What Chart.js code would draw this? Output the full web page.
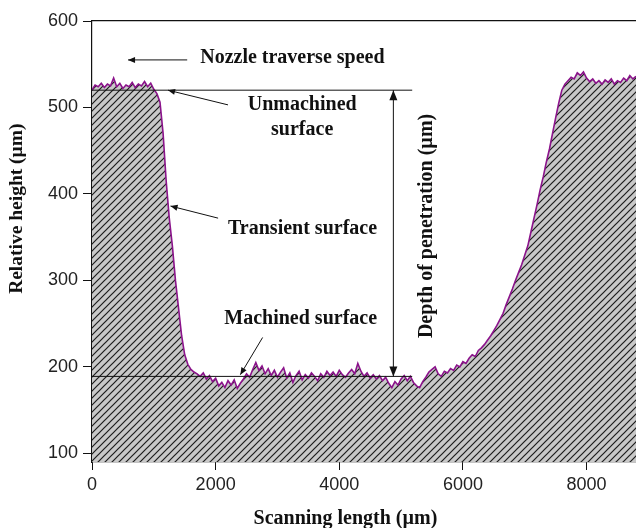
<!DOCTYPE html>
<html>
<head>
<meta charset="utf-8">
<script src="https://cdn.jsdelivr.net/npm/chart.js@4.4.1/dist/chart.umd.min.js"></script>
<style>
  html, body { margin: 0; padding: 0; background: #fff; }
  #wrap { width: 636px; height: 528px; }
</style>
</head>
<body>
<div id="wrap"><canvas id="profile"></canvas></div>
<script>
// scanning positions (µm)
const positions = [
    0, 50, 100, 150, 200, 250, 300, 350, 400, 450, 500, 550, 600, 650, 700, 750, 800, 850, 900, 950,
    1000, 1050, 1100, 1150, 1200, 1250, 1300, 1350, 1400, 1450, 1500, 1550, 1600, 1650, 1700, 1750, 1800, 1850, 1900, 1950,
    2000, 2050, 2100, 2150, 2200, 2250, 2300, 2350, 2400, 2450, 2500, 2550, 2600, 2650, 2700, 2750, 2800, 2850, 2900, 2950,
    3000, 3050, 3100, 3150, 3200, 3250, 3300, 3350, 3400, 3450, 3500, 3550, 3600, 3650, 3700, 3750, 3800, 3850, 3900, 3950,
    4000, 4050, 4100, 4150, 4200, 4250, 4300, 4350, 4400, 4450, 4500, 4550, 4600, 4650, 4700, 4750, 4800, 4850, 4900, 4950,
    5000, 5050, 5100, 5150, 5200, 5250, 5300, 5350, 5400, 5450, 5500, 5550, 5600, 5650, 5700, 5750, 5800, 5850, 5900, 5950,
    6000, 6050, 6100, 6150, 6200, 6250, 6300, 6350, 6400, 6450, 6500, 6550, 6600, 6650, 6700, 6750, 6800, 6850, 6900, 6950,
    7000, 7050, 7100, 7150, 7200, 7250, 7300, 7350, 7400, 7450, 7500, 7550, 7600, 7650, 7700, 7750, 7800, 7850, 7900, 7950,
    8000, 8050, 8100, 8150, 8200, 8250, 8300, 8350, 8400, 8450, 8500, 8550, 8600, 8650, 8700, 8750, 8800
];
// relative height (µm)
const heights = [
    520, 526, 524, 528, 523, 527, 525, 534, 524, 528, 522, 526, 524, 529, 523, 527, 525, 530, 524, 528,
    521, 516, 506, 470, 415, 372, 340, 300, 268, 236, 214, 203, 197, 194, 192, 189, 193, 186, 190, 183,
    187, 178, 182, 176, 184, 179, 185, 175, 181, 186, 192, 188, 197, 205, 196, 201, 192, 198, 190, 196,
    188, 194, 199, 187, 193, 182, 190, 195, 185, 191, 187, 193, 189, 184, 192, 188, 195, 190, 194, 189,
    196, 191, 188, 193, 197, 192, 204, 195, 189, 193, 187, 191, 186, 190, 184, 188, 181, 176, 183, 179,
    186, 190, 184, 189, 182, 178, 176, 183, 188, 194, 197, 200, 192, 189, 195, 193, 198, 196, 202, 200,
    206, 204, 210, 214, 212, 219, 222, 226, 231, 236, 242, 248, 255, 262, 272, 281, 290, 300, 309, 318,
    329, 340, 356, 372, 388, 405, 420, 437, 452, 470, 488, 505, 520, 527, 531, 535, 533, 540, 537, 541,
    534, 530, 533, 528, 531, 527, 532, 529, 533, 527, 531, 529, 534, 531, 537, 533, 536
];
const xTicks = [0, 2000, 4000, 6000, 8000];
const yTicks = [100, 200, 300, 400, 500, 600];

// reference levels: unmachined / machined surface, and where their lines stop
const surfaceLevels = [520, 189];
const levelStart = 0;
const levelEnd = 5180;
const depthAt = 4875;

const serif = '"Liberation Serif", "Times New Roman", serif';

function hatchPattern() {
    const size = 7;
    const c = document.createElement('canvas');
    c.width = size; c.height = size;
    const g = c.getContext('2d');
    g.fillStyle = '#c8c8c8';
    g.fillRect(0, 0, size, size);
    g.strokeStyle = '#1c1c1c';
    g.lineWidth = 1.2;
    g.beginPath();
    g.moveTo(-1, size + 1); g.lineTo(size + 1, -1);
    g.moveTo(-1, 1); g.lineTo(1, -1);
    g.moveTo(size - 1, size + 1); g.lineTo(size + 1, size - 1);
    g.stroke();
    return g.createPattern(c, 'repeat');
}

function arrowHead(ctx, x1, y1, x2, y2, len, wid, filled) {
    const a = Math.atan2(y2 - y1, x2 - x1);
    ctx.beginPath();
    ctx.moveTo(x2, y2);
    ctx.lineTo(x2 - len * Math.cos(a) + wid * Math.sin(a), y2 - len * Math.sin(a) - wid * Math.cos(a));
    if (filled) {
        ctx.lineTo(x2 - len * Math.cos(a) - wid * Math.sin(a), y2 - len * Math.sin(a) + wid * Math.cos(a));
        ctx.closePath();
        ctx.fill();
    } else {
        ctx.moveTo(x2, y2);
        ctx.lineTo(x2 - len * Math.cos(a) - wid * Math.sin(a), y2 - len * Math.sin(a) + wid * Math.cos(a));
        ctx.stroke();
    }
}

// text + arrows placed in data units
const annotations = {
    id: 'annotations',
    afterDatasetsDraw(chart) {
        const ctx = chart.ctx;
        const xs = chart.scales.x, ys = chart.scales.y;
        const px = v => xs.getPixelForValue(v);
        const py = v => ys.getPixelForValue(v);
        ctx.save();
        ctx.strokeStyle = '#111';
        ctx.fillStyle = '#111';
        ctx.lineWidth = 1;

        const pointer = (fx, fy, tx, ty) => {
            ctx.beginPath();
            ctx.moveTo(px(fx), py(fy));
            ctx.lineTo(px(tx), py(ty));
            ctx.stroke();
            arrowHead(ctx, px(fx), py(fy), px(tx), py(ty), 7, 3, true);
        };

        // nozzle direction
        pointer(1540, 555, 583, 555);
        // unmachined
        pointer(2200, 503, 1230, 520);
        // transient
        pointer(2040, 372, 1270, 386);
        // machined
        pointer(2760, 234, 2400, 191);

        // depth of penetration double arrow
        const dx = px(depthAt);
        const yTop = py(surfaceLevels[0]), yBot = py(surfaceLevels[1]);
        ctx.beginPath();
        ctx.moveTo(dx, yTop); ctx.lineTo(dx, yBot);
        ctx.stroke();
        arrowHead(ctx, dx, yBot, dx, yTop, 10, 4, true);
        arrowHead(ctx, dx, yTop, dx, yBot, 10, 4, true);

        ctx.font = 'bold 20px ' + serif;
        ctx.textBaseline = 'middle';
        ctx.textAlign = 'left';
        ctx.fillText('Nozzle traverse speed', px(1750), py(557));
        ctx.fillText('Transient surface', px(2200), py(360));
        ctx.fillText('Machined surface', px(2140), py(256));
        ctx.textAlign = 'center';
        ctx.fillText('Unmachined', px(3400), py(503));
        ctx.fillText('surface', px(3400), py(474));

        ctx.save();
        ctx.translate(px(5410), py(363));
        ctx.rotate(-Math.PI / 2);
        ctx.fillText('Depth of penetration (\u00b5m)', 0, 0);
        ctx.restore();

        // axis titles (the figure is cropped on the right, so they sit off-centre)
        ctx.font = 'bold 20px ' + serif;
        ctx.fillText('Scanning length (\u00b5m)', px(4100), chart.height - 9);
        ctx.translate(17, py(383));
        ctx.rotate(-Math.PI / 2);
        ctx.font = 'bold 19.5px ' + serif;
        ctx.fillText('Relative height (\u00b5m)', 0, 0);
        ctx.restore();
    }
};

const ctx = document.getElementById('profile');
new Chart(ctx, {
    type: 'line',
    data: {
        datasets: [
            {
                label: 'Unmachined surface',
                data: [{ x: levelStart, y: surfaceLevels[0] }, { x: levelEnd, y: surfaceLevels[0] }],
                borderColor: '#111',
                borderWidth: 1,
                pointRadius: 0,
                fill: false,
                order: 0
            },
            {
                label: 'Machined surface',
                data: [{ x: levelStart, y: surfaceLevels[1] }, { x: levelEnd, y: surfaceLevels[1] }],
                borderColor: '#111',
                borderWidth: 1,
                pointRadius: 0,
                fill: false,
                order: 0
            },
            {
                label: 'Profile',
                data: positions.map((p, i) => ({ x: p, y: heights[i] })),
                borderColor: '#8b138b',
                borderWidth: 1.6,
                backgroundColor: hatchPattern(),
                pointRadius: 0,
                fill: 'start',
                tension: 0,
                order: 1
            }
        ]
    },
    options: {
        responsive: true,
        maintainAspectRatio: false,
        animation: false,
        layout: { padding: { top: 13, right: 0, left: 0, bottom: 0 } },
        plugins: {
            legend: { display: false },
            tooltip: { enabled: false }
        },
        scales: {
            x: {
                type: 'linear',
                min: 0,
                max: 8800,
                afterBuildTicks: axis => { axis.ticks = xTicks.map(v => ({ value: v })); },
                afterFit: axis => { axis.height = 66; },
                grid: { drawOnChartArea: false, drawTicks: true, tickLength: 8, color: '#111' },
                border: { color: '#111', width: 1.2 },
                ticks: {
                    font: { family: '"Liberation Sans", Arial, sans-serif', size: 18 },
                    color: '#222',
                    padding: 4,
                    maxRotation: 0,
                    callback: value => String(value)
                },
                title: { display: false }
            },
            xTop: {
                type: 'linear',
                position: 'top',
                min: 0,
                max: 8800,
                grid: { display: false },
                ticks: { display: false },
                border: { color: '#111', width: 1.2 }
            },
            y: {
                type: 'linear',
                min: 90,
                max: 600,
                afterBuildTicks: axis => { axis.ticks = yTicks.map(v => ({ value: v })); },
                afterFit: axis => { axis.width = 92; },
                grid: { drawOnChartArea: false, drawTicks: true, tickLength: 9, color: '#111' },
                border: { color: '#111', width: 1.2 },
                ticks: {
                    font: { family: '"Liberation Sans", Arial, sans-serif', size: 18 },
                    color: '#222',
                    padding: 5,
                    callback: value => String(value)
                },
                title: { display: false }
            }
        }
    },
    plugins: [annotations]
});
</script>
</body>
</html>
